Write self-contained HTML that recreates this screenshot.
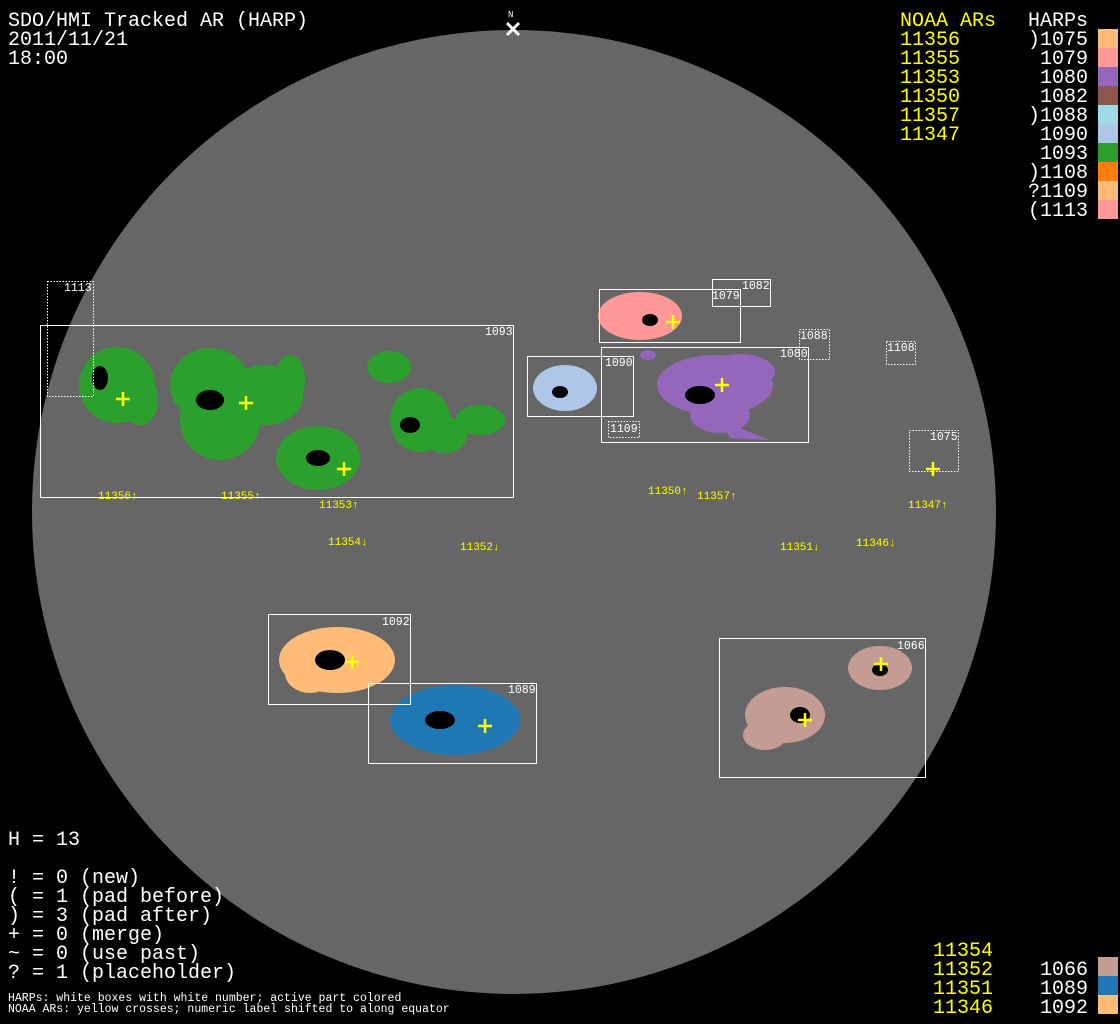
<!DOCTYPE html>
<html><head><meta charset="utf-8"><style>
html,body{margin:0;padding:0;background:#000;}
svg{display:block}
.m{font-family:"Liberation Mono",monospace;font-size:20px;}
.s{font-family:"Liberation Mono",monospace;font-size:11.5px;fill:#fff}
.y{font-family:"Liberation Mono",monospace;font-size:11px;fill:#ff0}
</style></head><body>
<svg width="1120" height="1024" viewBox="0 0 1120 1024" xmlns="http://www.w3.org/2000/svg">
<rect width="1120" height="1024" fill="#000"/>
<circle cx="514" cy="512" r="482" fill="#666"/>
<!-- N marker -->
<text x="508" y="17" font-family="Liberation Mono,monospace" font-size="9" fill="#fff">N</text>
<path d="M507 23 L519 35 M519 23 L507 35" stroke="#fff" stroke-width="3"/>

<!-- blobs -->
<g fill="#2ca02c">
<ellipse cx="117" cy="385" rx="38" ry="38"/>
<ellipse cx="140" cy="400" rx="18" ry="25"/>
<ellipse cx="210" cy="385" rx="40" ry="37"/>
<ellipse cx="220" cy="420" rx="40" ry="40"/>
<ellipse cx="265" cy="395" rx="38" ry="30"/>
<ellipse cx="290" cy="380" rx="15" ry="25"/>
<ellipse cx="318" cy="458" rx="42" ry="32"/>
<ellipse cx="389" cy="367" rx="22" ry="16"/>
<ellipse cx="420" cy="420" rx="30" ry="32"/>
<ellipse cx="445" cy="435" rx="22" ry="18"/>
<ellipse cx="480" cy="420" rx="25" ry="15"/>
</g>
<ellipse cx="640" cy="316" rx="42" ry="24" fill="#ff9896"/>
<g fill="#9467bd">
<ellipse cx="715" cy="385" rx="58" ry="30"/>
<ellipse cx="740" cy="372" rx="35" ry="18"/>
<ellipse cx="720" cy="415" rx="30" ry="18"/>
<path d="M720 420 L770 440 L730 438 Z"/>
<ellipse cx="648" cy="355" rx="8" ry="5"/>
</g>
<ellipse cx="565" cy="388" rx="32" ry="23" fill="#aec7e8"/>
<g fill="#ffbb78">
<ellipse cx="337" cy="660" rx="58" ry="33"/>
<ellipse cx="310" cy="673" rx="25" ry="20"/>
</g>
<g fill="#1f77b4">
<ellipse cx="455" cy="720" rx="65" ry="35"/>
</g>
<g fill="#c49c94">
<ellipse cx="880" cy="668" rx="32" ry="22"/>
<ellipse cx="785" cy="715" rx="40" ry="28"/>
<ellipse cx="765" cy="735" rx="22" ry="15"/>
</g>
<!-- spots -->
<g fill="#000">
<ellipse cx="100" cy="378" rx="8" ry="12"/><ellipse cx="210" cy="400" rx="14" ry="10"/><ellipse cx="318" cy="458" rx="12" ry="8"/>
<ellipse cx="410" cy="425" rx="10" ry="8"/><ellipse cx="560" cy="392" rx="8" ry="6"/><ellipse cx="700" cy="395" rx="15" ry="9"/>
<ellipse cx="330" cy="660" rx="15" ry="10"/><ellipse cx="440" cy="720" rx="15" ry="9"/><ellipse cx="800" cy="715" rx="10" ry="8"/>
<ellipse cx="650" cy="320" rx="8" ry="6"/><ellipse cx="880" cy="670" rx="8" ry="6"/>
</g>

<!-- boxes -->
<g fill="none" stroke="#fff" stroke-width="1">
<rect x="40.5" y="325.5" width="473" height="172"/>
<rect x="599.5" y="289.5" width="141" height="53"/>
<rect x="712.5" y="279.5" width="58" height="27"/>
<rect x="527.5" y="356.5" width="106" height="60"/>
<rect x="601.5" y="347.5" width="207" height="95"/>
<rect x="268.5" y="614.5" width="142" height="90"/>
<rect x="368.5" y="683.5" width="168" height="80"/>
<rect x="719.5" y="638.5" width="206" height="139"/>
</g>
<g fill="none" stroke="#fff" stroke-width="1" stroke-dasharray="1.5,1.5">
<rect x="47.5" y="281.5" width="46" height="115"/>
<rect x="799.5" y="329.5" width="30" height="30"/>
<rect x="886.5" y="341.5" width="29" height="23"/>
<rect x="608.5" y="421.5" width="31" height="16"/>
<rect x="909.5" y="430.5" width="49" height="41"/>
</g>
<g class="s">
<text x="64" y="291">1113</text><text x="485" y="335">1093</text><text x="712" y="299">1079</text>
<text x="742" y="289">1082</text><text x="800" y="339">1088</text><text x="887" y="351">1108</text>
<text x="605" y="366">1090</text><text x="780" y="357">1080</text><text x="610" y="432">1109</text>
<text x="930" y="440">1075</text><text x="382" y="625">1092</text><text x="508" y="693">1089</text>
<text x="897" y="649">1066</text>
</g>
<!-- crosses -->
<g stroke="#ff0" stroke-width="2.5">
<path d="M116 399h14M123 392v14M239 403h14M246 396v14M337 469h14M344 462v14M666 322h14M673 315v14M715 385h14M722 378v14M926 469h14M933 462v14M345 662h14M352 655v14M478 726h14M485 719v14M874 664h14M881 657v14M798 720h14M805 713v14"/>
</g>
<g class="y">
<text x="98" y="499">11356↑</text><text x="221" y="499">11355↑</text><text x="319" y="508">11353↑</text>
<text x="328" y="545">11354↓</text><text x="460" y="550">11352↓</text><text x="648" y="494">11350↑</text>
<text x="697" y="499">11357↑</text><text x="908" y="508">11347↑</text><text x="780" y="550">11351↓</text>
<text x="856" y="546">11346↓</text>
</g>

<!-- texts -->
<g class="m" fill="#fff">
<text x="8" y="26">SDO/HMI Tracked AR (HARP)</text>
<text x="8" y="45">2011/11/21</text>
<text x="8" y="64">18:00</text>
<text x="8" y="845">H = 13</text>
<text x="8" y="883">! = 0 (new)</text>
<text x="8" y="902">( = 1 (pad before)</text>
<text x="8" y="921">) = 3 (pad after)</text>
<text x="8" y="940">+ = 0 (merge)</text>
<text x="8" y="959">~ = 0 (use past)</text>
<text x="8" y="978">? = 1 (placeholder)</text>
</g>
<g class="m" fill="#ff0">
<text x="900" y="26">NOAA ARs</text>
<text x="900" y="45">11356</text><text x="900" y="64">11355</text><text x="900" y="83">11353</text>
<text x="900" y="102">11350</text><text x="900" y="121">11357</text><text x="900" y="140">11347</text>
<text x="933" y="956">11354</text><text x="933" y="975">11352</text><text x="933" y="994">11351</text><text x="933" y="1013">11346</text>
</g>
<g class="m" fill="#fff" text-anchor="end">
<text x="1088" y="26">HARPs</text>
<text x="1088" y="45">)1075</text><text x="1088" y="64">1079</text><text x="1088" y="83">1080</text>
<text x="1088" y="102">1082</text><text x="1088" y="121">)1088</text><text x="1088" y="140">1090</text>
<text x="1088" y="159">1093</text><text x="1088" y="178">)1108</text><text x="1088" y="197">?1109</text>
<text x="1088" y="216">(1113</text>
<text x="1088" y="975">1066</text><text x="1088" y="994">1089</text><text x="1088" y="1013">1092</text>
</g>
<g>
<rect x="1098" y="29" width="20" height="19" fill="#ffbb78"/>
<rect x="1098" y="48" width="20" height="19" fill="#ff9896"/>
<rect x="1098" y="67" width="20" height="19" fill="#9467bd"/>
<rect x="1098" y="86" width="20" height="19" fill="#8c564b"/>
<rect x="1098" y="105" width="20" height="19" fill="#9edae5"/>
<rect x="1098" y="124" width="20" height="19" fill="#aec7e8"/>
<rect x="1098" y="143" width="20" height="19" fill="#2ca02c"/>
<rect x="1098" y="162" width="20" height="19" fill="#ff7f0e"/>
<rect x="1098" y="181" width="20" height="19" fill="#ffbb78"/>
<rect x="1098" y="200" width="20" height="19" fill="#ff9896"/>
<rect x="1098" y="957" width="20" height="19" fill="#c49c94"/>
<rect x="1098" y="976" width="20" height="19" fill="#1f77b4"/>
<rect x="1098" y="995" width="20" height="19" fill="#ffbb78"/>
</g>
<g class="s">
<text x="8" y="1001">HARPs: white boxes with white number; active part colored</text>
<text x="8" y="1012">NOAA ARs: yellow crosses; numeric label shifted to along equator</text>
</g>
</svg>
</body></html>
